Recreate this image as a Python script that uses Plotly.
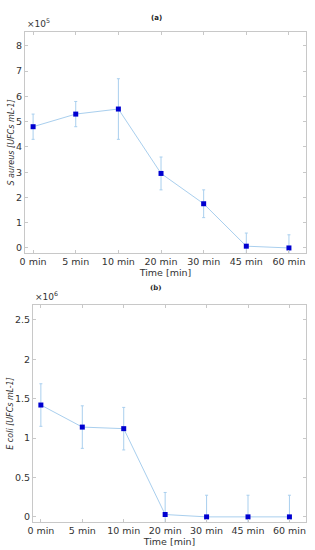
import plotly.graph_objects as go

times = ["0 min", "5 min", "10 min", "20 min", "30 min", "45 min", "60 min"]
s_aureus = [480000, 530000, 550000, 295000, 175000, 7000, 0]
s_aureus_err = [50000, 50000, 120000, 65000, 55000, 52000, 52000]
e_coli = [1420000, 1140000, 1120000, 30000, 0, 0, 0]
e_coli_err = [270000, 270000, 270000, 280000, 275000, 275000, 275000]

ytick_a = [0, 100000, 200000, 300000, 400000, 500000, 600000, 700000, 800000]
ytext_a = ["0", "1", "2", "3", "4", "5", "6", "7", "8"]
ytick_b = [0, 500000, 1000000, 1500000, 2000000, 2500000]
ytext_b = ["0", "0.5", "1", "1.5", "2", "2.5"]

LINE = "#a9cfee"
MARK = "#0000d0"
AX = "#c8c8c8"
TXT = "#333333"
W, H = 315, 550

fig = go.Figure()
for vals, err, xa, ya in [(s_aureus, s_aureus_err, "x", "y"), (e_coli, e_coli_err, "x2", "y2")]:
    fig.add_trace(go.Scatter(
        x=times, y=vals, xaxis=xa, yaxis=ya, mode="lines+markers",
        line=dict(color=LINE, width=1),
        marker=dict(symbol="square", size=5, color=MARK),
        error_y=dict(type="data", array=err, visible=True, color=LINE, thickness=1, width=1.5),
        showlegend=False, cliponaxis=True))

def px_x(p):
    return p / W
def px_y(p):
    return 1 - p / H

axis_common = dict(showline=True, linecolor=AX, linewidth=1, mirror="ticks", ticks="inside",
                   ticklen=3, tickcolor=AX, showgrid=False, zeroline=False, automargin=False,
                   tickfont=dict(family="DejaVu Sans", size=9.5, color=TXT))

fig.update_layout(
    width=W, height=H, margin=dict(l=0, r=0, t=0, b=0),
    paper_bgcolor="white", plot_bgcolor="white",
    xaxis=dict(domain=[px_x(25), px_x(306)], anchor="y", type="category",
               range=[-0.19, 6.4], tickvals=times, ticktext=times,
               title=dict(text="Time [min]", font=dict(family="DejaVu Sans", size=9.5, color=TXT), standoff=0),
               **axis_common),
    yaxis=dict(domain=[px_y(253), px_y(32)], anchor="x", range=[-20000, 855000],
               tickvals=ytick_a, ticktext=ytext_a,
               title=dict(text="<i>S aureus [UFCs mL-1]</i>", font=dict(family="DejaVu Sans", size=8, color=TXT), standoff=0),
               **axis_common),
    xaxis2=dict(domain=[px_x(33), px_x(306)], anchor="y2", type="category",
                range=[-0.19, 6.4], tickvals=times, ticktext=times,
                title=dict(text="Time [min]", font=dict(family="DejaVu Sans", size=9.5, color=TXT), standoff=0),
                **axis_common),
    yaxis2=dict(domain=[px_y(522), px_y(305)], anchor="x2", range=[-65000, 2690000],
                tickvals=ytick_b, ticktext=ytext_b,
                title=dict(text="<i>E coli [UFCs mL-1]</i>", font=dict(family="DejaVu Sans", size=8, color=TXT), standoff=0),
                **axis_common),
    annotations=[
        dict(text="<b>(a)</b>", x=px_x(156), y=px_y(12), xref="paper", yref="paper",
             showarrow=False, font=dict(family="DejaVu Sans", size=7, color="#222")),
        dict(text="<b>(b)</b>", x=px_x(156), y=px_y(287), xref="paper", yref="paper",
             showarrow=False, font=dict(family="DejaVu Serif", size=7, color="#222")),
        dict(text="×10<sup>5</sup>", x=px_x(25), y=px_y(31), xref="paper", yref="paper",
             xanchor="left", yanchor="bottom", showarrow=False,
             font=dict(family="DejaVu Sans", size=9, color=TXT)),
        dict(text="×10<sup>6</sup>", x=px_x(33), y=px_y(304), xref="paper", yref="paper",
             xanchor="left", yanchor="bottom", showarrow=False,
             font=dict(family="DejaVu Sans", size=9, color=TXT)),
    ],
)

fig.write_html("out.html", config={"displayModeBar": False},
               post_script="document.body.style.margin='0';document.body.style.overflow='hidden';")
